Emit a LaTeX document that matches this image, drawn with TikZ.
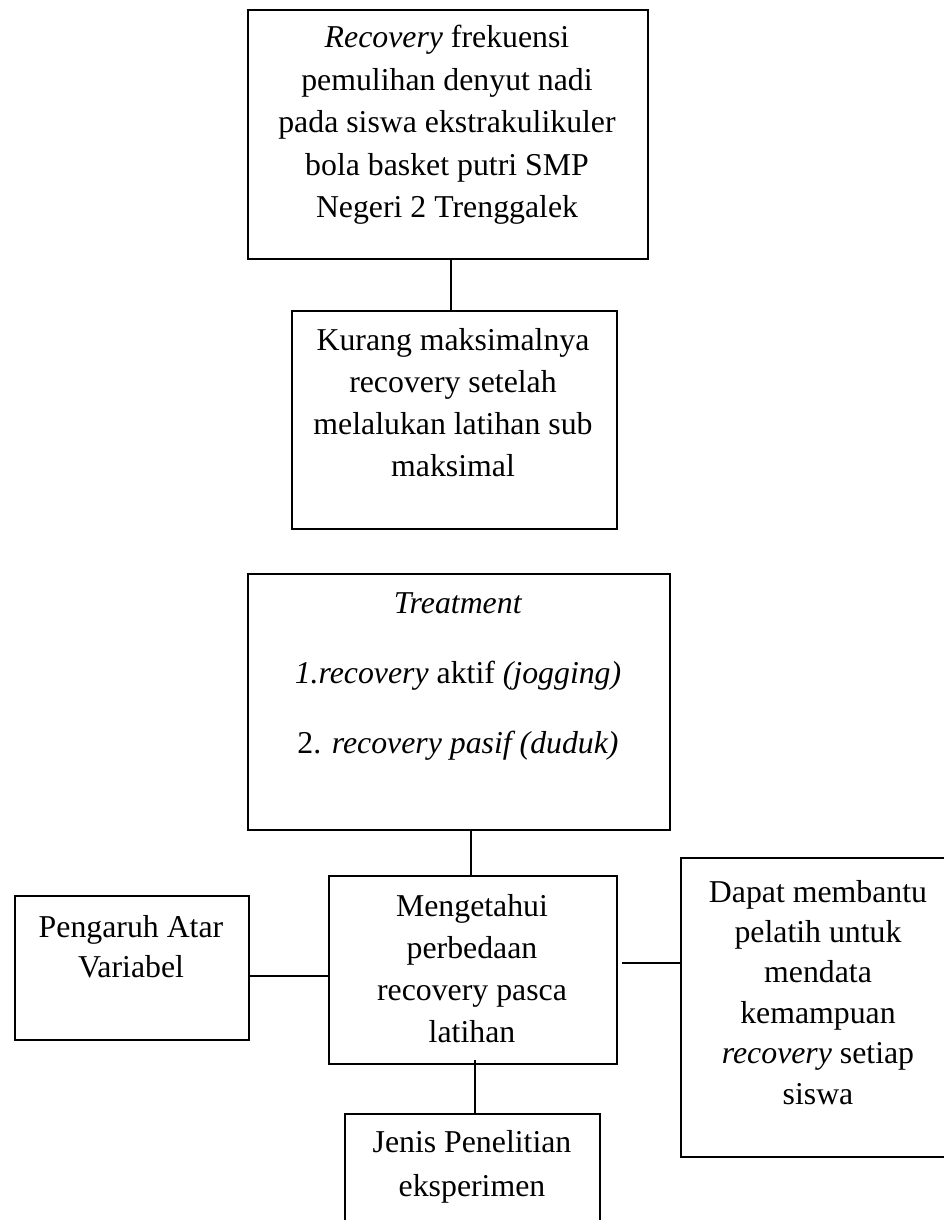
\documentclass[tikz,border=0pt]{standalone}
\usepackage{fontspec}
\setmainfont{Liberation Serif}
\newcommand\mylines[2]{\fontsize{31.8}{#1}\selectfont\begin{tabular}[t]{@{}c@{}}#2\end{tabular}}
\begin{document}
\begin{tikzpicture}[x=1pt,y=-1pt,
  box/.style={draw, line width=2.2pt, inner sep=0pt, anchor=north west},
  txt/.style={inner sep=0pt, anchor=base},
  conn/.style={line width=2.2pt}]
\useasboundingbox (0,0) rectangle (944,1220);
\clip (0,0) rectangle (944,1220);
% boxes
\node[box, minimum width=400pt, minimum height=249pt] (b1) at (247,9) {};
\node[box, minimum width=325pt, minimum height=218pt] (b2) at (291,310) {};
\node[box, minimum width=422pt, minimum height=256pt] (b3) at (247,573) {};
\node[box, minimum width=288pt, minimum height=188pt] (b4) at (328,875) {};
\node[box, minimum width=234pt, minimum height=144pt] (b5) at (14,895) {};
\node[box, minimum width=280pt, minimum height=299pt] (b6) at (680,857) {};
\node[box, minimum width=255pt, minimum height=140pt] (b7) at (344,1113) {};
% texts
\node[txt] (t1) at (447,48) {\mylines{42.5pt}{\textit{Recovery} frekuensi\\ pemulihan denyut nadi\\ pada siswa ekstrakulikuler\\ bola basket putri SMP\\ Negeri 2 Trenggalek}};
\node[txt] (t2) at (453,350) {\mylines{42.3pt}{Kurang maksimalnya\\ recovery setelah\\ melalukan latihan sub\\ maksimal}};
\node[txt] (t3) at (458,613) {\mylines{70pt}{\textit{Treatment}\\ \textit{1.recovery} aktif \textit{(jogging)}\\ 2. \textit{recovery pasif (duduk)}}};
\node[txt] (t4) at (472,916) {\mylines{42pt}{Mengetahui\\ perbedaan\\ recovery pasca\\ latihan}};
\node[txt] (t5) at (131,937) {\mylines{40.5pt}{Pengaruh Atar\\ Variabel}};
\node[txt] (t6) at (818,902) {\mylines{40.4pt}{Dapat membantu\\ pelatih untuk\\ mendata\\ kemampuan\\ \textit{recovery} setiap\\ siswa}};
\node[txt] (t7) at (472,1152) {\mylines{44pt}{Jenis Penelitian\\ eksperimen}};
% connectors
\draw[conn] ([xshift=3pt]b1.south) -- ([xshift=3pt]b1.south |- b2.north);
\draw[conn] ([xshift=12pt]b3.south) -- ([xshift=12pt]b3.south |- b4.north);
\draw[conn] (b5.east |- 0,976) -- ([xshift=2pt]b4.west |- 0,976);
\coordinate (rc) at (622,963);
\draw[conn] (rc) -- (b6.west |- rc);
\draw[conn] ([xshift=2pt,yshift=5pt]b4.south) -- ([xshift=2pt]b4.south |- b7.north);
\end{tikzpicture}
\end{document}
